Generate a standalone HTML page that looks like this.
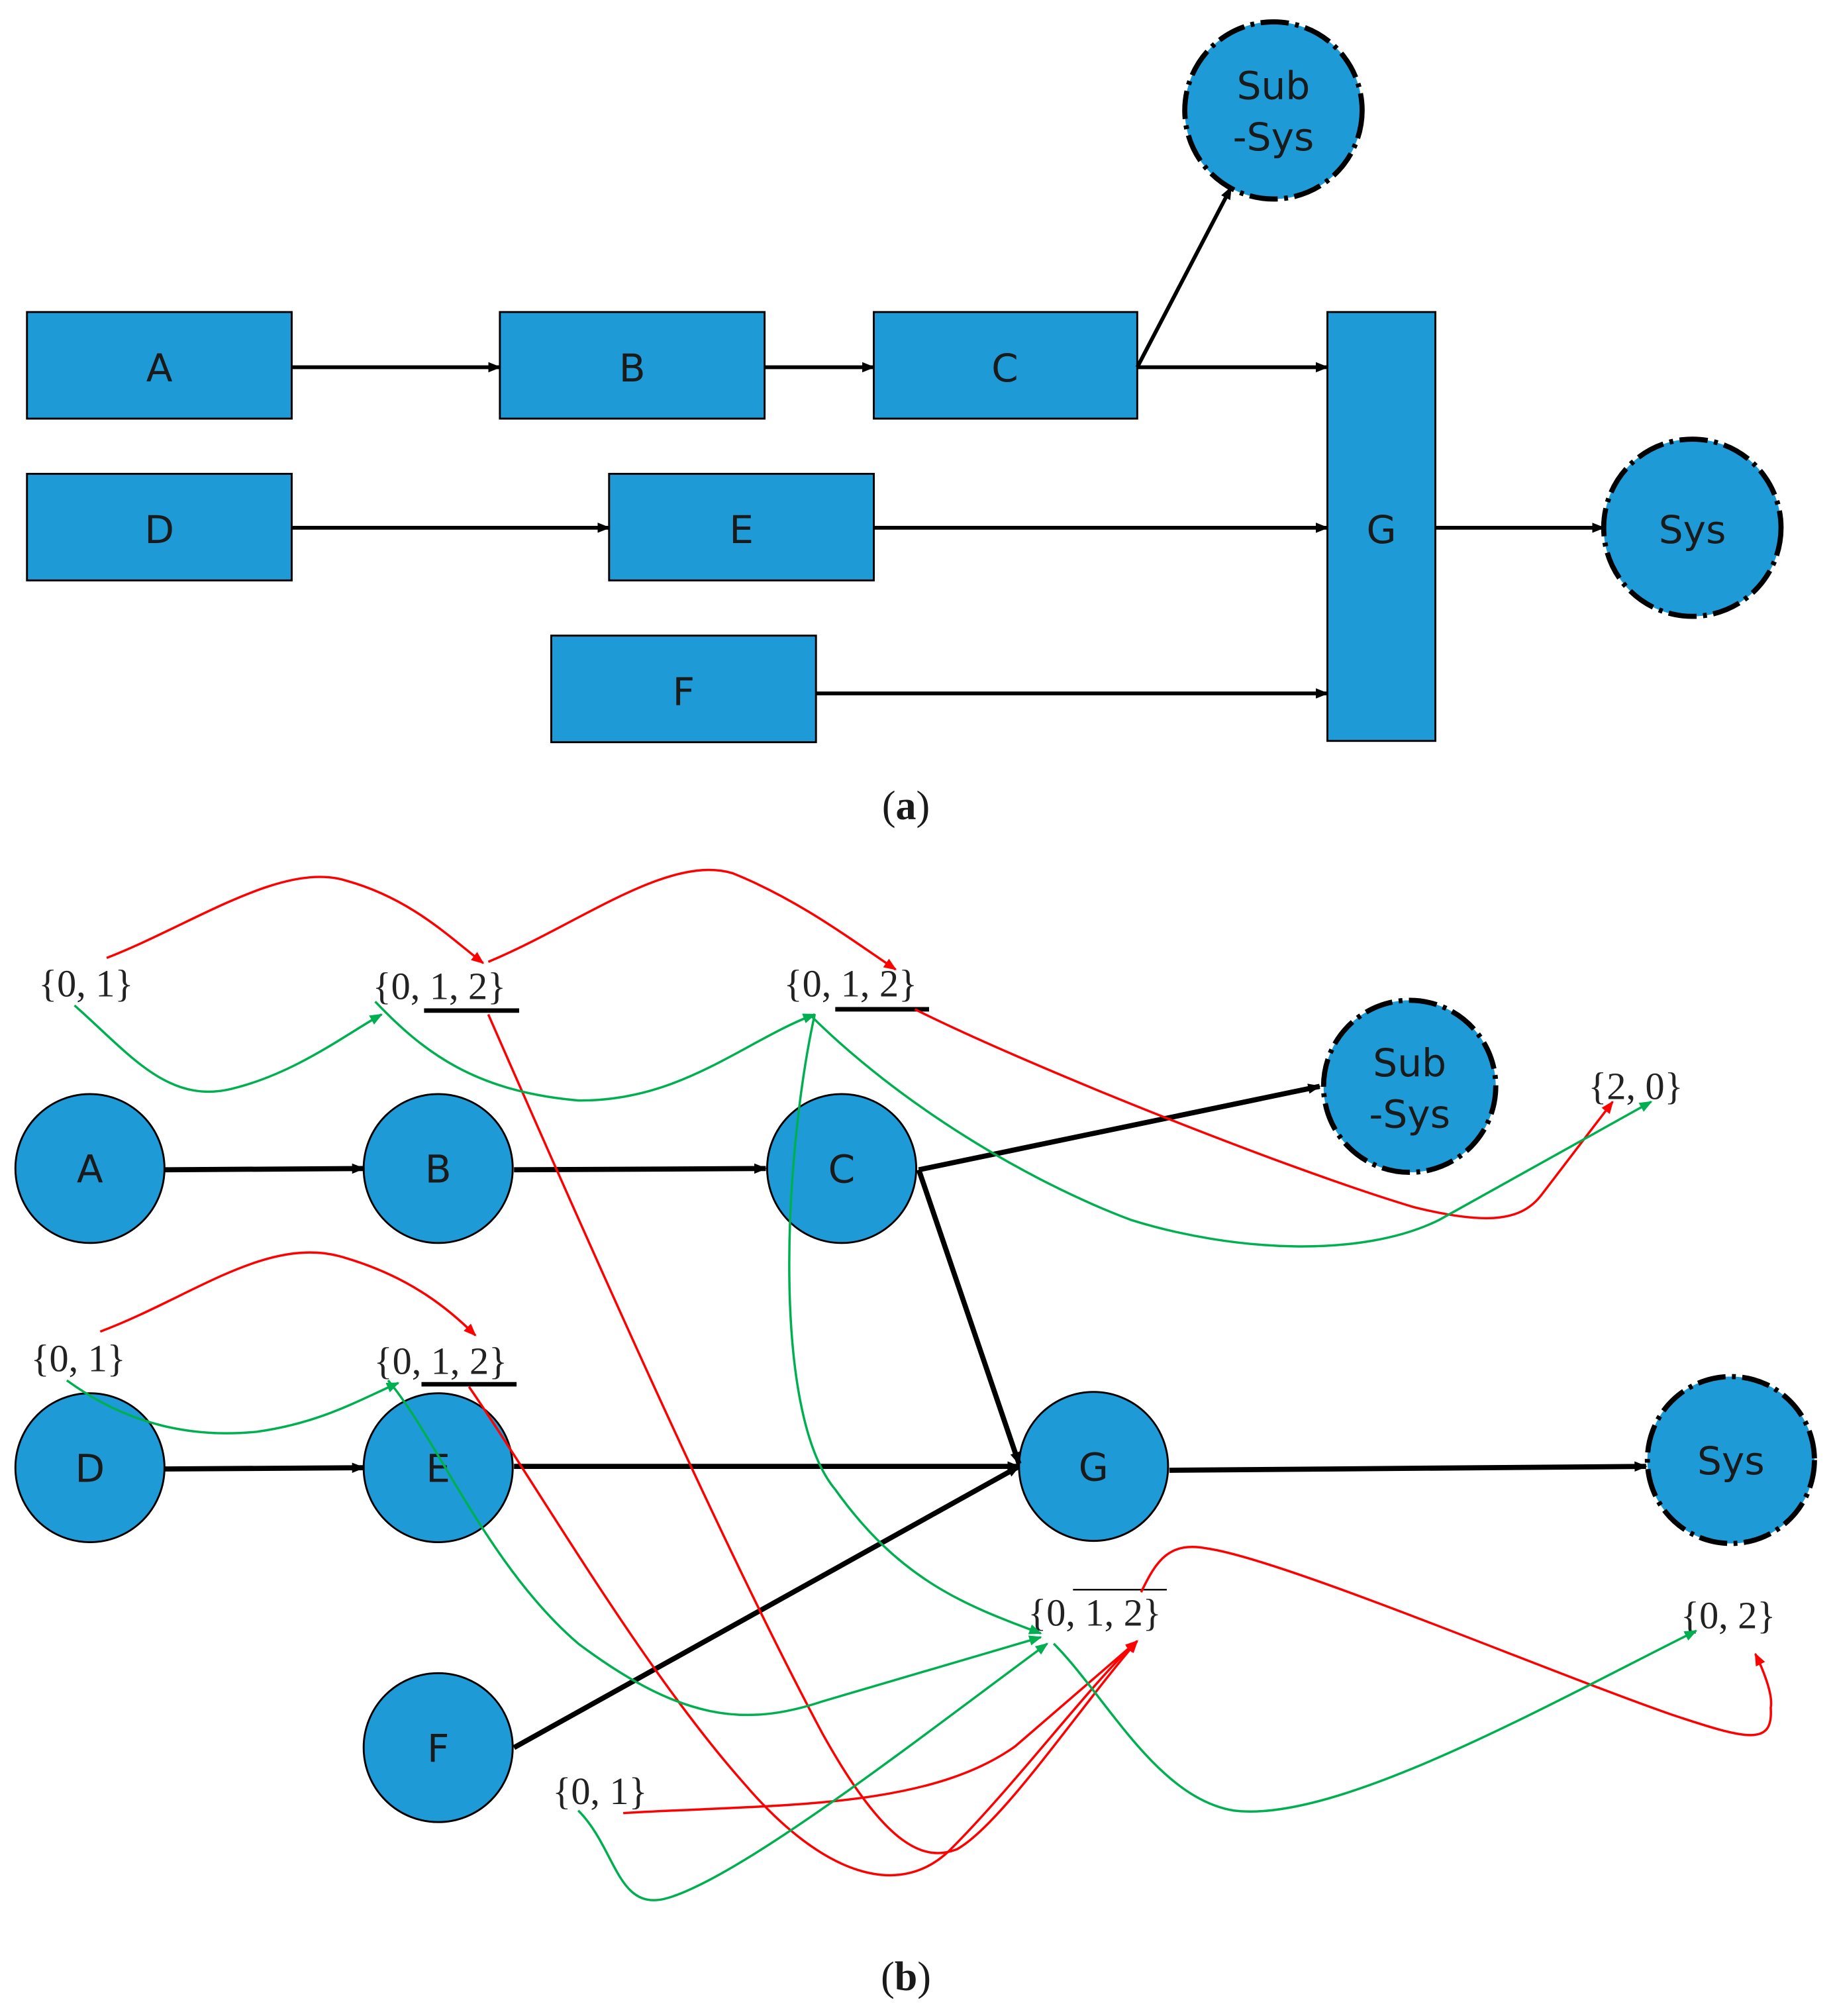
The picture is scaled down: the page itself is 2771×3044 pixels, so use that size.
<!DOCTYPE html>
<html><head><meta charset="utf-8"><style>
html,body{margin:0;padding:0;background:#fff}
svg{display:block}
</style></head><body>
<svg width="2771" height="3044" viewBox="0 0 1428 1570" preserveAspectRatio="none" xmlns="http://www.w3.org/2000/svg">
<defs>
<marker id="ak" markerWidth="10" markerHeight="10" refX="9" refY="5" orient="auto" markerUnits="userSpaceOnUse"><path d="M0,1 L10,5 L0,9 z" fill="#000"/></marker>
<marker id="ar" markerWidth="10" markerHeight="10" refX="9" refY="5" orient="auto" markerUnits="userSpaceOnUse"><path d="M0,1 L10,5 L0,9 z" fill="#f00"/></marker>
<marker id="ag" markerWidth="10" markerHeight="10" refX="9" refY="5" orient="auto" markerUnits="userSpaceOnUse"><path d="M0,1 L10,5 L0,9 z" fill="#00b050"/></marker>
</defs>
<g font-family="'DejaVu Sans','Liberation Sans',sans-serif" font-size="30" text-anchor="middle" fill="#1a1a1a">
<g fill="#1E9BD7" stroke="#000" stroke-width="1.5">
<rect x="21" y="243" width="206" height="83"/>
<rect x="389" y="243" width="206" height="83"/>
<rect x="680" y="243" width="205" height="83"/>
<rect x="21" y="369" width="206" height="83"/>
<rect x="474" y="369" width="206" height="83"/>
<rect x="429" y="495" width="206" height="83"/>
<rect x="1033" y="243" width="84" height="334"/>
</g>
<g fill="#1E9BD7" stroke="#000" stroke-width="4" stroke-dasharray="22,5,3,5">
<circle cx="991" cy="86" r="69"/>
<circle cx="1317" cy="411" r="69"/>
</g>
<text x="124" y="297">A</text><text x="492" y="297">B</text><text x="782" y="297">C</text>
<text x="124" y="423">D</text><text x="577" y="423">E</text><text x="532" y="549">F</text>
<text x="1075" y="423">G</text>
<text x="991" y="77">Sub</text><text x="991" y="117">-Sys</text>
<text x="1317" y="423">Sys</text>
<g stroke="#000" stroke-width="3" fill="none" marker-end="url(#ak)">
<line x1="227" y1="286" x2="389" y2="286"/>
<line x1="595" y1="286" x2="680" y2="286"/>
<line x1="885" y1="286" x2="1033" y2="286"/>
<line x1="885" y1="286" x2="958" y2="146"/>
<line x1="227" y1="411" x2="474" y2="411"/>
<line x1="680" y1="411" x2="1033" y2="411"/>
<line x1="635" y1="540" x2="1033" y2="540"/>
<line x1="1117" y1="411" x2="1248" y2="411"/>
</g>
<text x="705" y="638" font-family="'Liberation Serif',serif" font-size="32">(<tspan font-weight="bold">a</tspan>)</text>

<g fill="#1E9BD7" stroke="#000" stroke-width="1.5">
<circle cx="70" cy="910" r="58"/><circle cx="341" cy="910" r="58"/><circle cx="655" cy="910" r="58"/>
<circle cx="70" cy="1143" r="58"/><circle cx="341" cy="1143" r="58"/><circle cx="341" cy="1361" r="58"/>
<circle cx="851" cy="1142" r="58"/>
</g>
<g fill="#1E9BD7" stroke="#000" stroke-width="4" stroke-dasharray="22,5,3,5">
<circle cx="1097" cy="846" r="67"/>
<circle cx="1347" cy="1137" r="65"/>
</g>
<text x="70" y="921">A</text><text x="341" y="921">B</text><text x="655" y="921">C</text>
<text x="70" y="1154">D</text><text x="341" y="1154">E</text><text x="341" y="1372">F</text>
<text x="851" y="1153">G</text>
<text x="1097" y="838">Sub</text><text x="1097" y="878">-Sys</text>
<text x="1347" y="1148">Sys</text>
<g stroke="#000" stroke-width="4" fill="none" marker-end="url(#ak)">
<line x1="128" y1="911" x2="283" y2="910"/>
<line x1="400" y1="911" x2="596" y2="910"/>
<line x1="715" y1="911" x2="1027" y2="846"/>
<line x1="715" y1="911" x2="793" y2="1140"/>
<line x1="128" y1="1144" x2="283" y2="1143"/>
<line x1="400" y1="1142" x2="793" y2="1142"/>
<line x1="400" y1="1361" x2="793" y2="1142"/>
<line x1="910" y1="1145" x2="1281" y2="1142"/>
</g>
<g font-family="'Liberation Serif',serif" font-size="30" fill="#222" text-anchor="start">
<text x="30" y="776">{0, 1}</text>
<text x="290" y="778">{0, 1, 2}</text>
<text x="610" y="776">{0, 1, 2}</text>
<text x="1236" y="856">{2, 0}</text>
<text x="24" y="1068">{0, 1}</text>
<text x="291" y="1070">{0, 1, 2}</text>
<text x="800" y="1266">{0, 1, 2}</text>
<text x="1308" y="1268">{0, 2}</text>
<text x="430" y="1405">{0, 1}</text>
</g>
<g stroke="#000" stroke-width="3.5">
<line x1="330" y1="787" x2="404" y2="787"/>
<line x1="650" y1="786" x2="723" y2="786"/>
<line x1="328" y1="1078" x2="402" y2="1078"/>
</g>
<line x1="835" y1="1238" x2="908" y2="1238" stroke="#000" stroke-width="1.2"/>
<g fill="none" stroke="#f00" stroke-width="1.8" marker-end="url(#ar)">
<path d="M83,746 C150,720 220,670 270,686 C320,700 350,730 376,750"/>
<path d="M380,749 C450,720 520,665 570,680 C620,700 660,730 697,755"/>
<path d="M380,790 C450,950 560,1200 640,1350 C690,1440 720,1450 745,1440 C780,1420 840,1330 885,1278"/>
<path d="M712,786 C800,830 1000,910 1100,940 C1160,955 1185,950 1200,930 L1255,858"/>
<path d="M78,1037 C150,1010 210,960 270,980 C320,995 350,1020 370,1040"/>
<path d="M365,1080 C420,1160 500,1300 580,1390 C640,1460 700,1480 740,1440 C790,1390 850,1310 885,1278"/>
<path d="M485,1412 C600,1405 720,1410 790,1360 L885,1278"/>
<path d="M888,1240 C900,1215 910,1200 940,1206 C1000,1215 1200,1300 1300,1335 C1360,1355 1380,1360 1378,1330 C1380,1320 1372,1300 1366,1288"/>
</g>
<g fill="none" stroke="#00b050" stroke-width="1.8" marker-end="url(#ag)">
<path d="M58,783 C100,820 130,860 180,848 C230,836 270,805 297,790"/>
<path d="M292,780 C330,820 370,850 450,857 C530,858 580,810 634,790"/>
<path d="M630,790 C700,860 800,920 880,950 C960,975 1060,980 1120,950 L1285,858"/>
<path d="M634,790 C610,900 600,1100 650,1160 C700,1230 750,1250 810,1272"/>
<path d="M52,1075 C100,1110 150,1120 200,1115 C250,1108 280,1090 310,1077"/>
<path d="M302,1075 C340,1120 380,1220 450,1280 C530,1340 580,1345 640,1325 L810,1275"/>
<path d="M450,1410 C480,1440 480,1490 520,1478 C580,1460 720,1350 815,1280"/>
<path d="M820,1280 C860,1320 900,1400 960,1410 C1040,1420 1200,1330 1320,1270"/>
</g>
<text x="705" y="1550" font-family="'Liberation Serif',serif" font-size="32">(<tspan font-weight="bold">b</tspan>)</text>
</g>
</svg>
</body></html>
